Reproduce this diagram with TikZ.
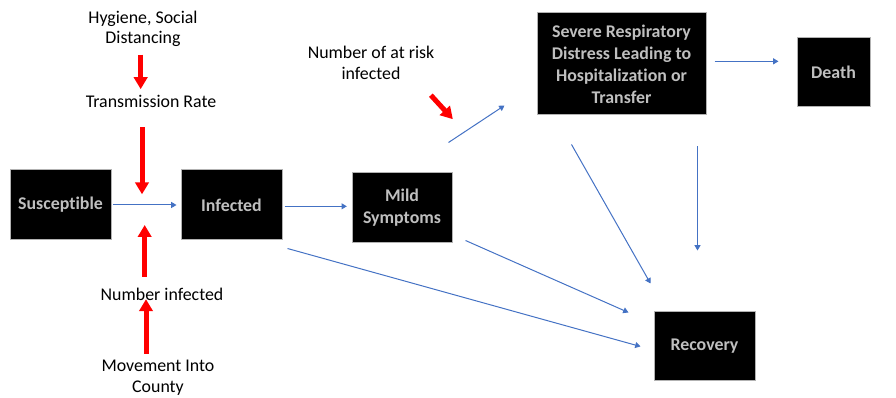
\documentclass[tikz,border=0pt]{standalone}
\usepackage{fontspec}
\setmainfont[Ligatures=NoCommon]{Carlito}
\usetikzlibrary{arrows.meta}
\definecolor{flowblue}{RGB}{68,114,196}
\definecolor{boxtext}{RGB}{191,191,191}

\begin{document}
\begin{tikzpicture}[x=0.75pt, y=-0.75pt,
        every node/.style={font=\fontsize{13.4}{15.5}\selectfont, align=center},
        box/.style={fill=black, draw=gray!60, line width=0.75pt, text=boxtext, font=\fontsize{13.4}{16.5}\selectfont\bfseries},
        note/.style={inner sep=1pt},
        flow/.style={flowblue, line width=0.75pt, -{Triangle[length=4pt,width=4.5pt]}},
        push/.style={red, line width=3.75pt, -{Triangle[length=9pt,width=10pt]}}]
                \useasboundingbox (0,0) rectangle (896,398);

                \node[box, minimum width=75.75pt, minimum height=52.5pt] (sus) at (60.5,205) {Susceptible};
                \node[box, minimum width=75.75pt, minimum height=52.5pt] (inf) at (231.5,205) {Infected};
                \node[box, minimum width=75pt, minimum height=52.5pt] (mild) at (402,208) {Mild\\Symptoms};
                \node[box, minimum width=126.75pt, minimum height=76.5pt] (sev) at (621.5,64) {Severe Respiratory\\Distress Leading to\\Hospitalization or\\Transfer};
                \node[box, minimum width=54.75pt, minimum height=51.75pt] (death) at (833.5,72.5) {Death};
                \node[box, minimum width=75.75pt, minimum height=51.75pt] (rec) at (704.5,346.5) {Recovery};

                \node[note] (hyg) at (143,29) {Hygiene, Social\\Distancing};
                \node[note] (trans) at (151,101) {Transmission Rate};
                \node[note] (numinf) at (162,294) {Number infected};
                \node[note] (move) at (158,378) {Movement Into\\County};
                \node[note] (risk) at (371,63) {Number of at risk\\infected};
                \coordinate (mix) at (142,205);

                \draw [flow, shorten <=1pt, shorten >=3pt] (sus.east) -- (inf.west);
                \draw [flow, shorten <=1.5pt, shorten >=3.5pt] ([yshift=-1]inf.east) -- ([yshift=-1]inf.east -| mild.west);
                \draw [flow] ([shift={(5,8)}]inf.south east) -- ([shift={(-13,0)}]rec.west);
                \draw [flow] ([shift={(13,-3)}]mild.south east) -- ([shift={(-25,1)}]rec.north west);
                \draw [flow] ([shift={(-4,-30)}]mild.north east) -- ([shift={(-32,-10)}]sev.south west);
                \draw [flow, shorten <=6pt, shorten >=13.5pt] ([yshift=2]sev.east) -- ([yshift=2]sev.east -| death.west);
                \draw [flow] ([shift={(35,29)}]sev.south west) -- ([shift={(-3,-28)}]rec.north west);
                \draw [flow] ([shift={(-9,31)}]sev.south east) -- ([shift={(-9,135)}]sev.south east);

                \draw [push, shorten <=4.5pt, shorten >=3pt] ([xshift=-1]hyg.south -| mix) -- ([xshift=-1]trans.north -| mix);
                \draw [push, shorten <=14pt, shorten >=8pt] (trans.south -| mix) -- (mix);
                \draw [push, shorten <=7pt, shorten >=15pt] ([xshift=2]numinf.north -| mix) -- ([xshift=2]mix);
                \draw [push, shorten <=4pt, shorten >=-2pt] ([xshift=3]move.north -| mix) -- ([xshift=3]numinf.south -| mix);
                \draw [push] ([shift={(-5,14)}]risk.south east) -- ++(22,24);
            \end{tikzpicture}
\end{document}
